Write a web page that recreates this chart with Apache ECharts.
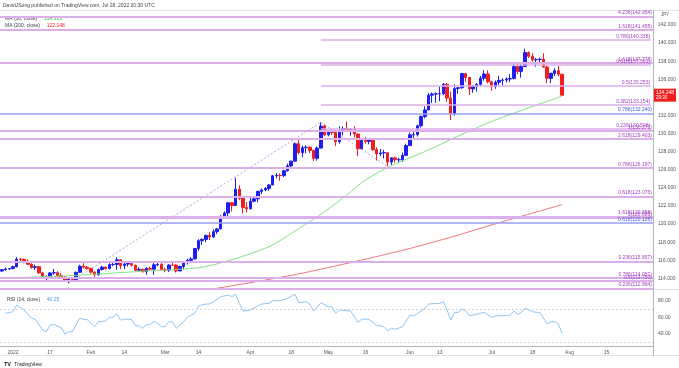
<!DOCTYPE html>
<html><head><meta charset="utf-8">
<script src="https://cdn.jsdelivr.net/npm/echarts@6/dist/echarts.min.js"></script>
<style>html,body{margin:0;padding:0;background:#fff}#c{width:679px;height:368px}</style>
</head><body><div id="c"></div><script>
// ---------- DATA ----------
// daily candles from 2021-12-29 through 2022-07-28 (weekdays)
const opens = [114.82,114.97,115.05,115.08,115.30,116.13,116.11,115.86,115.56,115.21,115.30,114.61,114.18,114.20,114.60,114.63,114.31,114.13,113.68,113.98,113.87,114.67,115.34,115.24,115.10,114.69,114.40,114.99,115.25,115.09,115.53,115.55,116.05,115.42,115.58,115.65,115.46,114.91,115.01,114.74,115.11,115.02,115.50,115.55,114.98,114.91,115.48,115.47,114.82,115.32,115.73,116.00,116.15,117.30,118.17,118.31,118.75,118.58,119.17,119.47,120.80,121.23,122.35,122.05,123.86,122.85,121.83,121.70,122.53,122.80,123.62,123.77,123.94,124.33,125.34,125.37,125.36,125.90,126.43,126.96,128.88,127.90,128.44,128.50,128.14,127.27,128.40,130.83,129.87,130.15,130.12,129.11,130.24,130.57,130.30,130.45,129.95,128.32,129.25,129.14,129.41,128.24,127.76,127.87,127.89,126.85,127.32,127.11,127.12,127.60,128.68,129.87,129.89,130.87,131.88,132.62,134.25,134.38,134.40,134.41,135.45,133.94,132.21,134.98,135.07,136.63,136.20,134.94,135.20,135.45,136.13,136.59,135.73,135.20,135.68,135.88,135.92,136.03,136.10,137.41,136.86,137.42,138.96,138.55,138.16,138.20,138.21,137.35,136.11,136.66,136.96,136.57];
const highs = [115.03,115.19,115.16,115.41,116.35,116.27,116.20,116.10,115.68,115.53,115.39,114.70,114.35,114.70,115.06,114.80,114.60,114.25,114.02,114.07,114.77,115.50,115.68,115.37,115.19,114.78,115.08,115.39,115.33,115.68,115.70,116.34,116.08,115.78,115.81,115.67,115.52,115.24,115.09,115.24,115.29,115.70,115.76,115.68,115.20,115.57,115.80,115.58,115.42,115.80,116.17,116.35,117.35,118.33,118.45,118.85,119.12,119.40,119.55,120.99,121.41,122.42,122.44,125.10,124.29,122.87,122.43,122.98,123.04,123.67,123.95,124.09,124.42,125.43,125.62,125.60,126.00,126.68,127.02,129.02,129.41,128.68,128.69,128.61,128.25,128.57,131.25,131.00,130.34,130.39,130.37,130.79,130.80,131.35,130.60,130.80,130.00,129.45,129.61,129.45,129.46,128.49,128.30,128.20,127.95,127.40,127.45,127.34,127.90,128.89,130.13,130.20,130.98,132.01,133.02,134.48,134.55,134.57,135.19,135.59,135.59,134.65,135.43,135.16,136.71,136.71,136.27,135.37,135.57,136.38,137.00,136.99,135.84,135.87,136.37,136.11,136.21,136.57,137.75,137.87,137.87,139.38,139.08,138.88,138.38,138.39,138.88,137.50,136.73,137.24,137.46,136.58];
const lows = [114.71,114.85,114.95,115.00,115.21,115.84,115.68,115.50,115.06,114.93,114.50,113.97,113.65,114.10,114.40,114.10,114.00,113.61,113.47,113.68,113.80,114.60,115.10,114.95,114.55,114.16,114.30,114.86,114.96,115.00,115.35,114.95,115.02,115.02,115.31,115.31,114.86,114.77,114.67,114.40,114.95,114.40,115.34,114.93,114.68,114.70,115.40,114.65,114.82,115.01,115.53,115.78,116.10,117.06,117.70,118.00,118.25,118.46,118.92,119.45,120.62,120.84,121.40,122.00,122.65,121.19,121.28,121.60,122.40,122.43,123.32,123.63,123.67,124.29,125.05,124.80,125.20,125.80,126.20,126.93,127.71,127.39,127.82,127.87,126.95,127.00,128.36,129.70,129.71,129.85,128.62,128.90,129.81,130.25,129.76,129.58,127.52,128.32,128.89,128.82,128.08,127.03,127.51,127.25,126.36,126.54,126.80,126.80,126.87,127.50,128.62,129.52,129.67,130.67,131.70,132.55,133.39,133.40,133.59,134.24,133.50,131.50,131.99,134.40,134.96,135.71,134.27,134.51,134.65,135.20,135.84,135.55,134.74,134.95,135.38,135.27,135.66,135.70,135.98,136.58,136.18,137.40,138.37,137.96,137.39,137.70,137.30,135.57,135.58,136.35,136.35,134.19];
const closes = [114.97,115.05,115.08,115.30,116.13,116.11,115.86,115.56,115.21,115.30,114.61,114.18,114.20,114.60,114.63,114.31,114.13,113.68,113.98,113.87,114.67,115.34,115.24,115.10,114.69,114.40,114.99,115.25,115.09,115.53,115.55,116.05,115.42,115.58,115.65,115.46,114.91,115.01,114.74,115.11,115.02,115.50,115.55,114.98,114.91,115.48,115.47,114.82,115.32,115.73,116.00,116.15,117.30,118.17,118.31,118.75,118.58,119.17,119.47,120.80,121.23,122.35,122.05,123.86,122.85,121.83,121.70,122.53,122.80,123.62,123.77,123.94,124.33,125.34,125.37,125.36,125.90,126.43,126.96,128.88,127.90,128.44,128.50,128.14,127.27,128.40,130.83,129.87,130.15,130.12,129.11,130.24,130.57,130.30,130.45,129.95,128.32,129.25,129.14,129.41,128.24,127.76,127.87,127.89,126.85,127.32,127.11,127.12,127.60,128.68,129.87,129.89,130.87,131.88,132.62,134.25,134.38,134.40,134.41,135.45,133.94,132.21,134.98,135.07,136.63,136.20,134.94,135.20,135.45,136.13,136.59,135.73,135.20,135.68,135.88,135.92,136.03,136.10,137.41,136.86,137.42,138.96,138.55,138.16,138.20,138.21,137.35,136.11,136.66,136.96,136.57,134.248];

// moving averages (day index into categories, value)
const ma50Day   = [0, 18, 40, 53, 61, 72, 79, 87, 93, 98, 105, 115, 123, 133, 142, 151];
const ma50Value = [114.05,114.30,114.85,115.18,115.95,117.50,119.24,121.37,123.22,124.87,126.45,128.19,129.73,131.50,132.85,134.129];
const ma200Day   = [43, 55, 80, 107, 121, 134, 151];
const ma200Value = [111.90,112.70,114.50,117.00,118.55,120.15,122.148];

// RSI(14)
const rsiDay = [1,3,4,6,8,9,11,12,13,14,16,17,18,19,21,22,23,25,26,28,29,30,31,32,34,35,36,37,38,39,40,41,42,43,44,45,46,47,49,50,52,53,55,56,57,59,61,62,63,64,65,67,69,70,72,73,75,77,79,80,82,83,84,86,88,89,90,91,93,94,96,97,99,101,102,103,104,105,106,108,110,111,113,114,115,118,119,120,121,122,123,124,125,126,128,130,132,133,135,137,138,139,140,141,143,144,145,147,148,149,150,151];
const rsiValue = [64.7,66.7,74.8,68.7,58.7,57.4,44.5,42.4,50.5,51.3,47.3,39.3,42.4,42.4,58.7,57.4,57.0,48.5,54.5,55.5,59.9,59.9,63.9,56.6,57.8,57.0,49.7,49.7,46.5,51.4,50.5,55.4,52.5,48.5,48.5,54.5,54.5,46.5,54.5,59.9,64.7,74.0,76.0,76.0,78.8,84.8,86.9,84.8,87.8,76.8,67.5,68.7,73.6,76.0,76.8,80.0,80.0,82.9,87.8,77.6,78.8,76.0,67.5,77.6,72.7,72.5,64.7,68.7,67.9,67.5,53.8,57.8,57.4,49.7,49.7,48.5,43.6,46.5,45.3,48.5,62.7,61.5,67.5,70.8,76.0,76.8,78.8,68.7,56.6,65.9,65.9,69.9,67.9,61.8,63.5,65.9,59.9,61.5,61.8,62.7,67.5,63.5,65.9,70.8,66.7,65.9,65.9,51.8,54.5,54.5,51.8,40.25];

// Fibonacci levels
const fibFullLevels = [142.954,141.455,137.778,132.240,130.271,129.403,126.197,123.076,120.858,120.685,120.126,115.857,114.050,113.750,112.894];
const fibFullLabels = ['4.236(142.954)','1.618(141.455)','1.618(137.778)','0.786(132.240)','1(130.271)','2.618(129.403)','0.786(126.197)','0.618(123.076)','1.618(120.858)','1(120.685)','0.618(120.126)','0.236(115.857)','0.786(114.050)','0.5(113.750)','0.236(112.894)'];
const fibFullBlue = [false,false,false,true,false,false,false,false,false,false,true,false,false,false,false];
const fibPartialStart = '2022-04-28';
const fibPartialLevels = [140.338,137.561,135.253,133.154,130.508];
const fibPartialLabels = ['0.786(140.338)','0.618(137.561)','0.5(135.253)','0.382(133.154)','0.236(130.508)'];

// dashed trend lines (low -> high -> low)
const trendDates  = ['2022-01-24','2022-04-28','2022-05-24'];
const trendPrices = [113.47,131.25,126.36];

const priceTicks = [114,116,118,120,122,124,126,128,130,132,134,136,138,140,142];
const rsiTicks = [40,60,80];
const xLabelDates = ['2022-01-03','2022-01-17','2022-02-01','2022-02-14','2022-03-01','2022-03-14','2022-04-01','2022-04-18','2022-05-02','2022-05-16','2022-06-01','2022-06-13','2022-07-01','2022-07-18','2022-08-01','2022-08-15'];
const xLabelTexts = ['2022','17','Feb','14','Mar','14','Apr','18','May','16','Jun','13','Jul','18','Aug','15'];

// ---------- BUILD ----------
const categories = (() => { const out=[]; const d=new Date(Date.UTC(2021,11,29));
  while(out.length<176){ const wd=d.getUTCDay(); if(wd!==0&&wd!==6) out.push(d.toISOString().slice(0,10)); d.setUTCDate(d.getUTCDate()+1);} return out; })();
const candleData = opens.map((o,i)=>[o, closes[i], lows[i], highs[i]]);
const lastClose = closes[closes.length-1];
const FONT = 'Liberation Sans, Arial, sans-serif';
const UP='#1c1ff0', DN='#f01e1e';
const PURPLE_LINE='#dcaeea', BLUE_LINE='#9a9ef2';
const PURPLE_TXT='#a23bbf', BLUE_TXT='#4a55d8';

const fibMark = [];
fibFullLevels.forEach((v,i)=>{
  const blue = fibFullBlue[i];
  fibMark.push({yAxis:v, lineStyle:{color: blue?BLUE_LINE:PURPLE_LINE, width: blue?1.5:2, type:'solid', opacity:1},
    label:{show:true, formatter: fibFullLabels[i], color: blue?BLUE_TXT:PURPLE_TXT}});
});
fibPartialLevels.forEach((v,i)=>{
  fibMark.push([{coord:[fibPartialStart, v], lineStyle:{color:PURPLE_LINE, width:1.5, type:'solid', opacity:1},
    label:{show:true, formatter: fibPartialLabels[i], color:PURPLE_TXT}}, {coord:[categories[categories.length-1], v]}]);
});

const chart = echarts.init(document.getElementById('c'), null, {renderer:'canvas'});
chart.setOption({
  animation:false,
  backgroundColor:'#ffffff',
  textStyle:{fontFamily:FONT},
  grid:[
    {left:0, top:10, width:653, height:279},
    {left:0, top:290, width:653, height:56}
  ],
  xAxis:[
    {type:'category', gridIndex:0, data:categories, boundaryGap:true, axisLine:{show:false}, axisTick:{show:false}, axisLabel:{show:false}, splitLine:{show:false}},
    {type:'category', gridIndex:1, data:categories, boundaryGap:true,
      axisLine:{show:true, lineStyle:{color:'#b2b5be', width:1}}, axisTick:{show:false},
      axisLabel:{fontSize:5, color:'#555', margin:4, fontFamily:FONT,
        interval:(idx,val)=>xLabelDates.indexOf(val)>=0,
        formatter:(val)=>{const j=xLabelDates.indexOf(val); return j>=0?xLabelTexts[j]:'';}},
      splitLine:{show:false}}
  ],
  yAxis:[
    {type:'value', gridIndex:0, position:'right', min:112.83, max:143.66, scale:true,
      axisLine:{show:true, lineStyle:{color:'#b2b5be'}}, axisTick:{show:false}, splitLine:{show:false},
      axisLabel:{customValues:priceTicks, fontSize:5, color:'#555', margin:5, fontFamily:FONT, formatter:(v)=>v.toFixed(3)}},
    {type:'value', gridIndex:0, position:'right', min:112.83, max:143.66, scale:true,
      axisLine:{show:false}, axisTick:{show:false}, splitLine:{show:false},
      axisLabel:{customValues:[lastClose], margin:1, verticalAlign:'middle', backgroundColor:'#f01e1e', padding:[1,2,1,2],
        formatter:(v)=>'{p|'+v.toFixed(3)+'}\n{t|29:30}',
        rich:{p:{fontSize:5, color:'#fff', lineHeight:6, fontFamily:FONT}, t:{fontSize:4.5, color:'#fff', lineHeight:5, fontFamily:FONT}}}},
    {type:'value', gridIndex:1, position:'right', min:25.1, max:92.97,
      axisLine:{show:true, lineStyle:{color:'#b2b5be'}}, axisTick:{show:false}, splitLine:{show:false},
      axisLabel:{customValues:rsiTicks, fontSize:5, color:'#555', margin:5, fontFamily:FONT, formatter:(v)=>v.toFixed(2)}}
  ],
  series:[
    {type:'candlestick', xAxisIndex:0, yAxisIndex:0, data:candleData, barWidth:3,
      itemStyle:{color:UP, color0:DN, borderColor:UP, borderColor0:DN, borderWidth:1},
      markLine:{silent:true, symbol:['none','none'], animation:false, precision:3,
        lineStyle:{color:PURPLE_LINE, type:'solid', opacity:1},
        emphasis:{disabled:true},
        label:{position:'insideEndTop', fontSize:5, distance:[1,1], fontFamily:FONT},
        data:fibMark}},
    {type:'line', xAxisIndex:0, yAxisIndex:0, showSymbol:false, symbol:'none', smooth:0.3,
      data:ma50Day.map((d,i)=>[categories[d], ma50Value[i]]), lineStyle:{color:'#86e086', width:1}, z:3},
    {type:'line', xAxisIndex:0, yAxisIndex:0, showSymbol:false, symbol:'none', smooth:0.3,
      data:ma200Day.map((d,i)=>[categories[d], ma200Value[i]]), lineStyle:{color:'#f07878', width:1}, z:3},
    {type:'line', xAxisIndex:0, yAxisIndex:0, showSymbol:false, symbol:'none',
      data:trendDates.map((d,i)=>[d, trendPrices[i]]), lineStyle:{color:'#c896de', width:1, type:[2,2]}, z:1},
    {type:'line', xAxisIndex:1, yAxisIndex:2, showSymbol:false, symbol:'none',
      data:rsiDay.map((d,i)=>[categories[d], rsiValue[i]]), lineStyle:{color:'#8ec5f5', width:1},
      markLine:{silent:true, symbol:['none','none'], label:{show:false},
        lineStyle:{color:'#c8c8c8', type:[1.5,2.5], width:1}, data:[{yAxis:70},{yAxis:30}]}}
  ],
  graphic:[
    {type:'line', shape:{x1:0,y1:10.5,x2:679,y2:10.5}, style:{stroke:'#e0e3eb', lineWidth:1}, silent:true},
    {type:'line', shape:{x1:0,y1:289.5,x2:679,y2:289.5}, style:{stroke:'#e0e3eb', lineWidth:1}, silent:true},
    {type:'line', shape:{x1:0,y1:355.5,x2:679,y2:355.5}, style:{stroke:'#e0e3eb', lineWidth:1}, silent:true},
    {type:'line', shape:{x1:653.5,y1:10,x2:653.5,y2:356}, style:{stroke:'#b2b5be', lineWidth:1}, silent:true},
    {type:'text', left:3, top:3, style:{text:'DavidJSong published on TradingView.com, Jul 28, 2022 20:30 UTC', fontSize:5, fill:'#444', fontFamily:FONT}},
    {type:'text', left:5, top:13, style:{text:'{a|MA (50, close)}  {g|'+ma50Value[ma50Value.length-1].toFixed(3)+'}', fontFamily:FONT,
      rich:{a:{fontSize:5, fill:'#444'}, g:{fontSize:5, fill:'#22c022'}}}},
    {type:'text', left:5, top:19.5, style:{text:'{a|MA (200, close)}  {r|'+ma200Value[ma200Value.length-1].toFixed(3)+'}', fontFamily:FONT,
      rich:{a:{fontSize:5, fill:'#444'}, r:{fontSize:5, fill:'#f02020'}}}},
    {type:'text', left:7, top:293.5, style:{text:'{a|RSI (14, close)}  {b|'+rsiValue[rsiValue.length-1].toFixed(2)+'}', fontFamily:FONT,
      rich:{a:{fontSize:5, fill:'#444'}, b:{fontSize:5, fill:'#3d9cf0'}}}},
    {type:'text', left:661, top:12, style:{text:'JPY', fontSize:4.5, fill:'#555', fontFamily:FONT}},
    {type:'text', left:4, top:358.5, style:{text:'{l|TV} {t|TradingView}', fontFamily:FONT,
      rich:{l:{fontSize:5.5, fontWeight:'bold', fill:'#131722'}, t:{fontSize:5, fill:'#131722'}}}}
  ]
});
</script></body></html>
